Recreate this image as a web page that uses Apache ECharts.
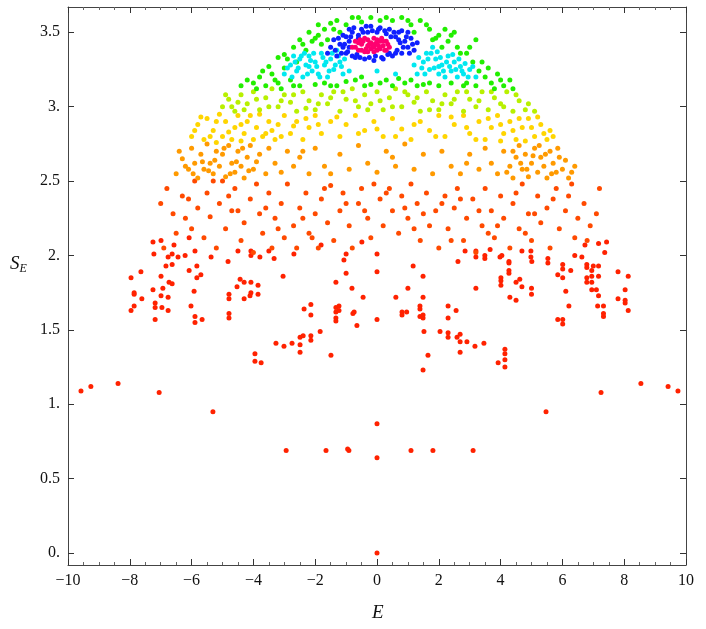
<!DOCTYPE html>
<html>
<head>
<meta charset="UTF-8">
<title>S_E vs E</title>
<script src="https://cdn.jsdelivr.net/npm/echarts@6/dist/echarts.min.js"></script>
</head>
<body style="margin:0">
<div id="main" style="width:706px;height:629px"></div>
<script>
// values, grouped by colour band
var sparsePts = [[-9.58,1.09],[-9.26,1.12],[-8.38,1.14],[-7.05,1.08],[-5.31,0.95],[-2.94,0.69],[-1.65,0.69],[-0.91,0.69],[-0.95,0.70],[0,0.87],[0,0.64],[0,0],
  [1.10,0.69],[1.81,0.69],[3.11,0.69],[5.47,0.95],[7.25,1.08],[8.54,1.14],[9.42,1.12],[9.74,1.09],
  [-7.96,1.85],[-7.86,1.75],[-7.86,1.74],[-7.86,1.66],[-7.96,1.63],[-7.64,1.89],[-7.61,1.71],[-7.25,2.09],[-6.99,2.10],[-7.22,2.01],[-7.25,1.77],[-7.18,1.68],[-7.18,1.65],[-7.18,1.57],
  [-6.99,1.86],[-6.93,1.78],[-6.99,1.73],[-6.96,1.65],[-6.76,1.99],[-6.83,1.93],[-6.76,1.72],[-6.76,1.63],[-6.63,2.01],[-6.57,2.07],[-6.63,1.94],[-6.73,1.82],[-6.63,1.81],
  [-6.44,1.99],[-6.21,2.00],[-6.08,2.12],[-5.89,2.03],[-6.08,1.90],[-5.83,1.93],[-5.83,1.85],[-5.70,1.87],[-5.92,1.76],[-6.02,1.66],[-5.89,1.59],[-5.89,1.55],[-5.66,1.57],
  [-5.37,1.99],[-4.82,1.96],[-4.50,2.03],[-4.79,1.74],[-4.79,1.71],[-4.79,1.61],[-4.79,1.58],[-4.43,1.84],[-4.53,1.79],[-4.30,1.82],[-4.30,1.71],[-4.08,2.03],[-4.08,2.00],
  [-4.08,1.82],[-4.08,1.75],[-4.11,1.73],[-3.85,1.80],[-3.85,1.74],[-3.79,1.99],[-3.50,2.03],[-3.33,1.98],[-3.04,1.86],[-3.95,1.34],[-3.95,1.29],[-3.75,1.28],
  [-3.27,1.41],[-3.01,1.39],[-2.75,1.41],[-2.49,1.45],[-2.49,1.40],[-2.49,1.35],[-2.39,1.46],[-2.14,1.46],[-2.14,1.43],[-1.84,1.49],[-1.49,1.33],[-2.69,2.01],[-2.36,1.64],
  [-2.14,1.67],[-2.14,1.60],[-1.81,2.07],[-1.33,1.82],[-1.33,1.65],[-1.33,1.62],[-1.33,1.58],[-1.33,1.56],[-1.23,1.66],[-1.23,1.63],[-1.07,1.97],[-1.00,2.01],[-1.00,1.88],
  [-0.81,1.78],[-0.78,1.61],[-0.74,1.62],[-0.65,1.53],[-0.45,1.72],[-0.49,2.09],[0.0,2.01],[0.0,1.89],[0.0,1.57],
  [1.00,1.78],[0.61,1.72],[1.17,1.93],[1.49,1.86],[1.49,1.72],[0.81,1.62],[0.81,1.60],[0.96,1.62],[1.39,1.66],[1.39,1.64],[1.39,1.59],[1.49,1.60],[1.49,1.58],[1.52,1.49],
  [1.65,1.33],[1.49,1.23],[2.04,1.49],[2.30,1.66],[2.30,1.58],[2.56,1.63],[2.30,1.48],[2.30,1.45],[2.59,1.45],[2.69,1.47],[2.69,1.42],[2.69,1.35],[2.91,1.42],[3.17,1.39],
  [3.46,1.41],[3.20,1.78],[2.62,1.96],[2.85,2.03],[3.20,2.03],[3.20,1.99],[3.49,2.00],[3.49,1.98],[3.66,2.04],[3.98,1.99],[4.04,2.00],[4.27,1.96],[4.27,1.95],[4.27,1.90],
  [4.27,1.88],[4.01,1.85],[4.01,1.83],[4.01,1.80],[4.50,1.82],[4.62,1.84],[4.69,1.79],[4.30,1.72],[4.50,1.70],[3.92,1.28],[4.14,1.37],[4.14,1.34],[4.14,1.30],[4.14,1.25],
  [4.69,2.03],[4.98,2.03],[4.98,1.99],[5.01,1.96],[5.00,1.78],[5.00,1.74],[5.53,1.98],[5.53,1.95],[5.85,1.87],[6.01,1.94],[6.01,1.91],[6.01,1.85],[6.11,1.76],[6.21,1.66],
  [5.85,1.57],[6.01,1.57],[6.01,1.54],[6.27,1.90],[6.40,2.00],[6.63,1.99],[6.73,2.07],[6.79,1.94],[6.79,1.92],[6.79,1.85],[6.79,1.82],[6.95,1.90],[6.95,1.86],[6.95,1.82],
  [6.95,1.77],[7.0,1.93],[7.10,1.77],[7.17,1.93],[7.17,1.86],[7.17,1.73],[7.14,1.66],[7.33,1.66],[7.33,1.61],[7.33,1.59],[7.17,2.08],[7.43,2.09],[7.37,2.02],[7.80,1.89],
  [7.80,1.71],[8.03,1.77],[8.03,1.70],[8.03,1.68],[8.13,1.86],[8.13,1.63]];

var lowRingPts = [[-7.0,2.35],[-6.8,2.45],[-6.6,2.28],[-6.5,2.15],[-6.3,2.4],[-6.2,2.25],[-6.0,2.18],[-5.9,2.5],[-5.8,2.32],[-5.6,2.12],[-5.5,2.42],[-5.4,2.26],[-5.2,2.05],
  [-5.1,2.35],[-5.0,2.5],[-4.9,2.18],[-4.7,2.3],[-4.6,2.45],[-4.4,2.1],[-4.3,2.22],[-4.1,2.38],[-4.0,2.02],[-3.8,2.28],[-3.7,2.15],[-3.5,2.42],[-3.4,2.05],[-3.3,2.25],
  [-3.1,2.35],[-3.0,2.12],[-2.9,2.48],[-2.7,2.2],[-2.6,2.05],[-2.5,2.32],[-2.3,2.42],[-2.2,2.15],[-2.0,2.28],[-1.9,2.05],[-1.8,2.38],[-1.6,2.22],[-1.5,2.47],[-1.4,2.1],
  [-1.2,2.3],[-1.1,2.42],[-0.9,2.2],[-0.8,2.05],[-0.6,2.35],[-0.5,2.45],[-0.3,2.25],[-0.2,2.12],[0.1,2.38],[0.2,2.2],[0.4,2.45],[0.5,2.3],[0.7,2.15],[0.8,2.4],[1.0,2.25],
  [1.1,2.48],[1.3,2.35],[1.4,2.1],[1.6,2.42],[1.7,2.2],[1.9,2.3],[2.0,2.05],[2.2,2.4],[2.3,2.18],[2.5,2.32],[2.6,2.45],[2.8,2.1],[2.9,2.25],[3.1,2.38],[3.2,2.02],[3.4,2.2],
  [3.5,2.45],[3.7,2.3],[3.8,2.12],[4.0,2.4],[4.1,2.25],[4.3,2.05],[4.4,2.35],[4.6,2.18],[4.7,2.48],[4.9,2.28],[5.0,2.1],[5.2,2.4],[5.3,2.22],[5.5,2.32],[5.6,2.05],[5.8,2.45],
  [5.9,2.18],[6.1,2.3],[6.2,2.4],[6.4,2.12],[6.5,2.25],[6.7,2.35],[6.9,2.2],[7.1,2.28],[7.2,2.45],
  [-6.9,2.05],[-6.1,2.38],[-5.3,2.5],[-4.8,2.4],[-3.9,2.48],[-3.2,2.18],[-2.4,2.25],[-1.7,2.45],[-1.0,2.35],[-0.4,2.3],[0.3,2.42],[0.9,2.32],[1.5,2.28],[2.1,2.35],[2.7,2.38],
  [3.3,2.3],[3.9,2.2],[4.5,2.42],[5.1,2.28],[5.7,2.38],[6.3,2.48],[6.8,2.1],[-0.1,2.48],[1.2,2.18],[-2.1,2.12],[2.4,2.1],[3.6,2.15],[-3.6,2.32],[4.8,2.15],[-4.5,2.3]];

var orangePts = [[-6.5,2.55],[-6.3,2.65],[-6.1,2.58],[-6.0,2.72],[-5.9,2.62],[-5.8,2.52],[-5.7,2.68],[-5.6,2.58],[-5.5,2.75],[-5.4,2.62],[-5.3,2.55],[-5.2,2.7],[-5.1,2.6],
  [-5.0,2.68],[-4.9,2.53],[-4.8,2.74],[-4.7,2.62],[-4.6,2.56],[-4.5,2.7],[-4.4,2.6],[-4.3,2.52],[-4.2,2.66],[-4.1,2.74],[-4.0,2.58],[-3.8,2.68],[-3.6,2.55],[-3.5,2.72],
  [-3.3,2.62],[-3.1,2.56],[-2.9,2.7],[-2.7,2.6],[-2.5,2.66],[-2.2,2.55],[-2.0,2.72],[-1.7,2.6],[-1.5,2.55],[-1.2,2.68],[-0.9,2.58],[-0.6,2.74],[-0.3,2.62],[0.0,2.56],
  [0.3,2.7],[0.6,2.6],[0.9,2.75],[1.2,2.58],[1.5,2.68],[1.8,2.55],[2.1,2.7],[2.4,2.6],[2.7,2.55],[3.0,2.68],[3.3,2.58],[3.5,2.72],[3.7,2.62],[3.9,2.55],[4.1,2.7],[4.3,2.6],
  [4.4,2.52],[4.5,2.66],[4.6,2.74],[4.7,2.58],[4.8,2.68],[4.9,2.53],[5.0,2.62],[5.1,2.72],[5.2,2.56],[5.3,2.66],[5.4,2.6],[5.5,2.52],[5.6,2.7],[5.7,2.62],[5.8,2.56],
  [5.9,2.66],[6.0,2.58],[6.2,2.52],[6.4,2.6],
  [-6.4,2.7],[-6.2,2.6],[-5.95,2.55],[-5.65,2.63],[-5.45,2.57],[-5.25,2.64],[-4.95,2.72],[-4.75,2.55],[-4.55,2.63],[-4.35,2.72],[-4.15,2.57],[-3.9,2.63],[4.2,2.56],[4.4,2.7],
  [4.65,2.62],[4.85,2.58],[5.05,2.67],[5.25,2.74],[5.45,2.68],[5.65,2.55],[5.85,2.72],[6.1,2.64],[6.3,2.56],[-2.4,2.7],[0.5,2.66],[2.9,2.62]];

var yellowPts = [[-6.0,2.8],[-5.8,2.88],[-5.6,2.78],[-5.5,2.92],[-5.3,2.84],[-5.1,2.95],[-5.0,2.8],[-4.9,2.9],[-4.7,2.78],[-4.6,2.86],[-4.5,2.94],[-4.3,2.82],[-4.2,2.9],
  [-4.0,2.78],[-3.9,2.86],[-3.8,2.95],[-3.6,2.82],[-3.5,2.9],[-3.3,2.78],[-3.2,2.88],[-3.0,2.94],[-2.8,2.82],[-2.6,2.9],[-2.4,2.78],[-2.2,2.86],[-2.0,2.94],[-1.8,2.82],
  [-1.5,2.9],[-1.2,2.8],[-1.0,2.88],[-0.7,2.94],[-0.4,2.84],[-0.1,2.9],[0.2,2.8],[0.5,2.92],[0.8,2.85],[1.1,2.78],[1.4,2.9],[1.7,2.84],[2.0,2.94],[2.2,2.8],[2.5,2.88],
  [2.8,2.94],[3.0,2.82],[3.3,2.9],[3.5,2.78],[3.7,2.86],[3.9,2.94],[4.1,2.82],[4.3,2.9],[4.5,2.78],[4.7,2.86],[4.9,2.92],[5.1,2.8],[5.3,2.88],[5.5,2.78],[5.6,2.84],
  [-5.2,2.76],[-4.4,2.77],[4.0,2.77],[4.8,2.77],
  [-5.9,2.84],[-5.7,2.93],[-5.4,2.8],[-5.2,2.9],[-4.8,2.83],[-4.4,2.88],[-4.1,2.94],[-3.7,2.8],[-3.4,2.84],[-3.1,2.8],[-2.7,2.87],[-2.3,2.92],[-1.9,2.88],[-1.3,2.93],
  [-0.6,2.82],[0.0,2.85],[0.6,2.8],[1.2,2.88],[1.9,2.8],[2.4,2.93],[2.9,2.86],[3.2,2.78],[3.6,2.92],[4.0,2.88],[4.4,2.84],[4.6,2.92],[5.0,2.86],[5.2,2.93],[5.4,2.82],[5.7,2.8]];

var limePts = [[-5.0,3.0],[-4.8,3.05],[-4.6,2.97],[-4.4,3.08],[-4.2,3.02],[-4.0,3.1],[-3.8,2.98],[-3.6,3.06],[-3.4,3.12],[-3.2,3.0],[-3.0,3.08],[-2.8,3.03],[-2.6,2.97],
  [-2.4,3.1],[-2.2,3.04],[-2.0,2.98],[-1.8,3.08],[-1.6,3.02],[-1.4,3.1],[-1.2,2.97],[-1.0,3.05],[-0.8,3.12],[-0.6,3.0],[-0.4,3.08],[-0.2,3.02],[0.0,3.1],[0.2,2.98],
  [0.4,3.06],[0.6,3.12],[0.8,3.0],[1.0,3.08],[1.2,3.03],[1.4,2.97],[1.6,3.1],[1.8,3.04],[2.0,2.98],[2.2,3.08],[2.4,3.02],[2.6,3.1],[2.8,2.97],[3.0,3.05],[3.2,3.0],
  [3.4,3.1],[3.6,2.98],[3.8,3.06],[4.0,3.02],[4.2,3.1],[4.4,2.97],[4.6,3.04],[4.8,2.98],
  [-4.9,3.08],[-4.7,3.0],[-4.5,3.03],[-4.3,2.98],[-3.9,3.05],[-3.5,3.0],[-3.1,3.04],[-2.7,3.08],[-2.3,2.99],[-1.9,3.02],[-1.5,3.06],[-1.1,3.1],[-0.7,3.04],[-0.3,2.98],
  [0.1,3.04],[0.5,3.0],[0.9,3.1],[1.3,3.06],[1.7,2.98],[2.1,3.02],[2.5,3.05],[2.9,3.1],[3.3,3.04],[3.7,3.1],[4.1,3.0],[4.5,3.08],[4.9,3.02],[5.1,2.97]];

var greenPts = [[-4.0,3.16],[-3.8,3.2],[-3.6,3.14],[-3.4,3.22],[-3.2,3.16],[-3.0,3.26],[-2.8,3.18],[-2.6,3.3],[-2.5,3.14],[-2.3,3.38],[-2.1,3.44],[-1.9,3.48],[-1.7,3.52],
  [-1.5,3.56],[-1.3,3.58],[-1.0,3.55],[-0.8,3.6],[-0.5,3.57],[0.5,3.58],[0.8,3.6],[1.1,3.55],[1.4,3.58],[1.7,3.52],[2.0,3.48],[2.3,3.44],[2.6,3.4],[2.9,3.36],[3.1,3.3],
  [3.3,3.24],[3.5,3.2],[3.7,3.16],[3.9,3.22],[4.1,3.14],[4.3,3.18],[-2.2,3.5],[-1.2,3.5],[1.2,3.5],[2.2,3.52],[-0.2,3.15],[0.3,3.18],[0.9,3.16],[-0.7,3.18],[1.5,3.15],
  [-1.5,3.14],[2.0,3.14],[-2.0,3.15],[2.9,3.16],[3.2,3.45],[-2.7,3.4],[-3.2,3.33],[-1.6,3.45],[1.8,3.45],[0.1,3.58],[-0.2,3.6],[2.5,3.5],
  [-4.4,3.14],[-4.2,3.18],[-3.9,3.12],[-3.7,3.24],[-3.5,3.27],[-3.3,3.18],[-3.1,3.12],[-2.9,3.32],[-2.7,3.14],[-2.4,3.42],[-2.0,3.46],[-1.8,3.42],[-1.7,3.16],[-1.3,3.14],
  [-1.0,3.17],[-0.5,3.2],[-0.4,3.14],[0.1,3.16],[0.5,3.14],[0.7,3.19],[1.1,3.18],[1.3,3.14],[1.7,3.16],[1.9,3.46],[2.1,3.4],[2.4,3.16],[2.7,3.36],[2.8,3.14],[3.0,3.4],
  [3.2,3.14],[3.4,3.3],[3.6,3.26],[3.8,3.12],[4.0,3.18],[4.4,3.12],[-1.9,3.55],[-1.4,3.52],[-0.6,3.6],[0.3,3.6],[1.0,3.58],[1.6,3.55],[2.4,3.48],[-2.5,3.45],[-3.0,3.35]];

var cyanPts = [[-3.0,3.22],[-2.8,3.28],[-2.6,3.24],[-2.5,3.32],[-2.4,3.2],[-2.3,3.28],[-2.2,3.34],[-2.1,3.24],[-2.0,3.3],[-1.9,3.22],[-1.8,3.36],[-1.7,3.28],[-1.6,3.2],
  [-1.5,3.32],[-1.4,3.25],[-1.3,3.38],[-1.2,3.3],[-1.1,3.22],[-2.7,3.34],[-2.35,3.36],[1.3,3.22],[1.5,3.3],[1.6,3.36],[1.7,3.25],[1.9,3.32],[2.0,3.22],[2.1,3.28],[2.3,3.34],
  [2.4,3.24],[2.5,3.3],[2.6,3.2],[2.7,3.27],[2.8,3.22],[3.0,3.25],[3.2,3.2],[2.2,3.2],[1.8,3.4],[-0.9,3.24],[0.0,3.24],[0.6,3.22],
  [-2.9,3.26],[-2.75,3.2],[-2.65,3.3],[-2.55,3.26],[-2.45,3.34],[-2.25,3.22],[-2.15,3.31],[-2.05,3.36],[-1.95,3.27],[-1.85,3.2],[-1.75,3.33],[-1.65,3.3],[-1.55,3.24],
  [-1.45,3.36],[-1.35,3.28],[-1.25,3.34],[-1.15,3.27],[-1.05,3.32],[1.45,3.26],[1.55,3.22],[1.65,3.32],[1.75,3.36],[1.85,3.26],[1.95,3.37],[2.05,3.33],[2.15,3.24],[2.25,3.3],
  [2.35,3.27],[2.45,3.35],[2.55,3.25],[2.65,3.32],[2.75,3.24],[2.85,3.29],[2.95,3.2],[3.1,3.27],[1.35,3.33],[1.2,3.28],[-2.2,3.27],[2.0,3.27]];

var bluePts = [[-1.5,3.4],[-1.4,3.45],[-1.3,3.34],[-1.2,3.42],[-1.1,3.48],[-1.0,3.36],[-0.9,3.44],[-0.8,3.5],[-0.7,3.33],[-0.6,3.48],[-0.5,3.52],[-0.4,3.32],[-0.3,3.5],
  [-0.2,3.54],[-0.1,3.31],[0.0,3.5],[0.1,3.53],[0.2,3.32],[0.3,3.49],[0.4,3.52],[0.5,3.34],[0.6,3.47],[0.7,3.5],[0.8,3.36],[0.9,3.44],[1.0,3.4],[1.1,3.46],[1.2,3.38],
  [-1.0,3.47],[0.6,3.36],[-0.8,3.34],[1.3,3.43],[-1.6,3.36],[-0.9,3.52],[0.8,3.51],
  [-1.35,3.38],[-1.25,3.46],[-1.15,3.36],[-1.05,3.42],[-0.95,3.37],[-0.85,3.47],[-0.75,3.53],[-0.65,3.35],[-0.55,3.33],[-0.45,3.5],[-0.35,3.54],[-0.25,3.33],[-0.15,3.51],
  [-0.05,3.34],[0.05,3.52],[0.15,3.33],[0.25,3.51],[0.35,3.35],[0.45,3.47],[0.55,3.5],[0.65,3.38],[0.75,3.43],[0.85,3.4],[0.95,3.47],[1.05,3.36],[1.15,3.42],[-0.6,3.46],
  [0.4,3.36],[-1.1,3.4],[1.0,3.5],[-0.9,3.4],[0.7,3.45]];

var corePts = [[-0.8,3.4],[-0.7,3.44],[-0.6,3.38],[-0.5,3.42],[-0.4,3.46],[-0.4,3.37],[-0.3,3.41],[-0.3,3.45],[-0.2,3.39],[-0.2,3.43],[-0.1,3.4],[-0.1,3.46],[0.0,3.38],
  [0.0,3.42],[0.1,3.44],[0.1,3.39],[0.2,3.41],[0.3,3.38],[0.3,3.44],[0.4,3.4],[-0.15,3.415],[-0.25,3.42],[-0.05,3.425],[0.05,3.41],
  [-0.7,3.4],[-0.6,3.43],[-0.5,3.38],[-0.45,3.44],[-0.35,3.39],[-0.1,3.37],[0.15,3.46],[0.25,3.38],[0.35,3.42],[-0.55,3.45],[0.0,3.45],[0.2,3.44],[-0.3,3.37]];

var yTicks = [0, 0.5, 1, 1.5, 2, 2.5, 3, 3.5];

var font = 'Liberation Serif';
function yLabel(v) { return Number.isInteger(v) ? v + '.' : String(v); }
function xLabel(v) { return v < 0 ? '\u2212' + (-v) : String(v); }

function band(data, color) {
    return { type: 'scatter', data: data, symbolSize: 5, itemStyle: { color: color, opacity: 1 }, silent: true };
}

var chart = echarts.init(document.getElementById('main'));
var tick = { show: true, inside: true, length: 6, lineStyle: { color: '#333' } };
var minor = { show: true, splitNumber: 4, length: 3, lineStyle: { color: '#666' } };
var line = { onZero: false, lineStyle: { color: '#444' } };
chart.setOption({
    animation: false,
    grid: { left: 68, right: 20, top: 7, bottom: 64 },
    xAxis: [{
        type: 'value', min: -10, max: 10, interval: 2, position: 'bottom',
        axisLine: line, axisTick: tick, minorTick: minor, splitLine: { show: false },
        axisLabel: { formatter: xLabel, fontFamily: font, fontSize: 16, color: '#111', margin: 8 }
    }, {
        type: 'value', min: -10, max: 10, interval: 2, position: 'top',
        axisLine: line, axisTick: tick, minorTick: minor, splitLine: { show: false },
        axisLabel: { show: false }
    }],
    yAxis: [{
        type: 'value', min: -0.08, max: 3.67, position: 'left',
        axisLine: line,
        axisTick: Object.assign({ customValues: yTicks }, tick),
        splitLine: { show: false },
        axisLabel: { customValues: yTicks, formatter: yLabel, fontFamily: font, fontSize: 16, color: '#111', margin: 8 }
    }, {
        type: 'value', min: -0.08, max: 3.67, position: 'right',
        axisLine: line,
        axisTick: Object.assign({ customValues: yTicks }, tick),
        splitLine: { show: false },
        axisLabel: { show: false }
    }],
    graphic: [
        { type: 'text', left: 372, top: 603, style: { text: 'E', font: 'italic 19px "Liberation Serif"', fill: '#111' } },
        { type: 'text', left: 10, top: 254, style: {
            text: '{s|S}{e|E}', font: 'italic 19px "Liberation Serif"', fill: '#111',
            rich: { s: { font: 'italic 19px "Liberation Serif"' }, e: { font: 'italic 12px "Liberation Serif"', padding: [10, 0, 0, 0] } } } }
    ],
    series: [
        band(sparsePts, '#ff2200'),
        band(lowRingPts, '#ff4a00'),
        band(orangePts, '#ff9a00'),
        band(yellowPts, '#ffd500'),
        band(limePts, '#b8f000'),
        band(greenPts, '#22ee00'),
        band(cyanPts, '#00e8f0'),
        band(bluePts, '#1020ff'),
        band(corePts, '#ff0070')
    ]
});
</script>
</body>
</html>
